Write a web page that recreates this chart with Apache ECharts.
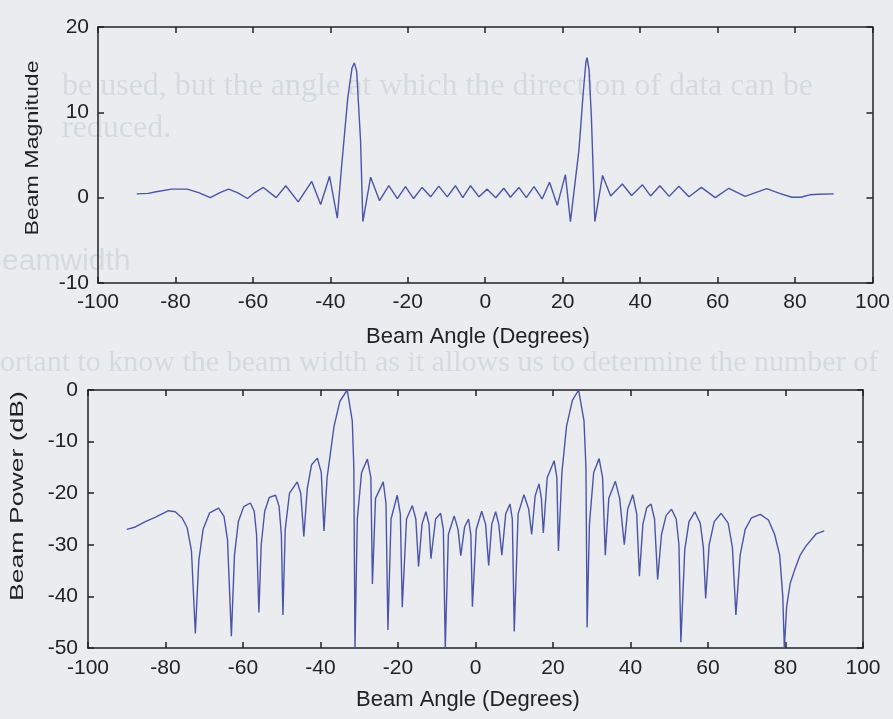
<!DOCTYPE html>
<html lang="en">
  <head>
    <meta charset="UTF-8" />
    <title>Beam pattern</title>
    <style>
      html, body { margin: 0; padding: 0; background: #eaecf0; }
      #main { width: 893px; height: 719px; }
    </style>
    <script src="https://cdn.jsdelivr.net/npm/echarts@6/dist/echarts.min.js"></script>
  </head>
  <body>
    <div id="main"></div>
    <script>
      // axis ticks
      const angleTicks = [-100, -80, -60, -40, -20, 0, 20, 40, 60, 80, 100]
      const magTicks = [-10, 0, 10, 20]
      const powTicks = [-50, -40, -30, -20, -10, 0]

      // beam magnitude (top plot)
      const magAngles = [
        -90, -87, -85, -81, -77, -74, -71, -68.5, -66.3, -64, -61.4, -59.5, -57.3, -54,
        -51.5, -48.3, -44.8, -42.5, -40.2, -38.2, -37.2, -35.5, -34.4, -33.8, -33.2, -32.2,
        -31.6, -29.6, -27.3, -24.9, -22.7, -20.6, -18.5, -16.3, -14.1, -12, -9.8, -7.7,
        -5.8, -3.8, -1.6, 0.5, 2.7, 4.8, 6.5, 8.7, 10.6, 12.6, 14.7, 16.6, 18.6, 20.7,
        22, 24.2, 25.3, 26, 26.3, 26.8, 27.4, 28.3, 30.3, 32.4, 35.4, 37.8, 40.6, 42.7,
        45.1, 47.5, 50, 52.6, 55.8, 59.4, 62.9, 67.1, 72.7, 76, 79.2, 81.5, 84, 86, 90
      ]
      const magValues = [
        0.45, 0.5, 0.7, 1.0, 1.0, 0.6, 0.0, 0.6, 1.0, 0.6, -0.1, 0.6, 1.2, 0.0,
        1.4, -0.5, 1.9, -0.8, 2.5, -2.4, 3.1, 11.7, 15.2, 15.8, 14.8, 6.7,
        -2.8, 2.4, -0.35, 1.4, -0.1, 1.3, -0.1, 1.2, 0.1, 1.35, 0.1, 1.4,
        0.0, 1.4, 0.1, 1.0, 0.0, 1.1, 0.05, 1.2, 0.0, 1.3, -0.15, 1.8, -0.9, 2.7,
        -2.8, 5.6, 12.3, 15.9, 16.4, 15.0, 9.6, -2.8, 2.6, 0.2, 1.6, 0.25, 1.5, 0.2,
        1.4, 0.15, 1.35, 0.1, 1.2, 0.0, 1.1, 0.15, 1.05, 0.5, 0.05, 0.05, 0.35, 0.4, 0.45
      ]

      // beam power in dB (bottom plot)
      const powAngles = [
        -90, -88, -85.2, -82.7, -79.2, -77.5, -75.7, -74.4,
        -73.3, -72.3, -71.4, -70.3, -68.6, -66.3, -64.9, -64,
        -63, -62.2, -61.2, -59.8, -58.1, -57.1, -56.5, -55.9,
        -55.3, -54.4, -53.2, -51.6, -50.7, -50.1, -49.7, -49.1,
        -48, -46, -45.1, -44.3, -43.4, -42.3, -40.8, -39.8,
        -39.1, -38.3, -36.5, -35, -33.1, -31.8, -31.4, -31.1,
        -30.5, -29.4, -27.9, -27, -26.6, -25.8, -23.8, -23.1,
        -22.6, -21.8, -20.2, -19.4, -18.9, -17.8, -16.3, -15.4,
        -14.7, -13.8, -12.8, -12, -11.5, -10.3, -9, -8.3,
        -7.8, -7, -5.5, -4.5, -3.8, -2.8, -1.8, -1.2,
        -0.8, 0.2, 1.6, 2.6, 3.4, 4.2, 5.2, 6,
        6.8, 7.8, 8.9, 9.5, 10, 11, 12.5, 13.7,
        14.5, 15.4, 16.4, 17, 17.5, 18.5, 20.3, 21,
        21.4, 22.3, 23.5, 25, 26.6, 28, 28.5, 28.8,
        29.4, 30.5, 31.9, 32.8, 33.5, 34.4, 36.1, 37.2,
        38.4, 39.3, 40.6, 41.6, 42.3, 43.2, 44.2, 45.3,
        46.2, 47, 48, 49.2, 50.6, 51.8, 52.5, 53,
        54, 55.1, 56.6, 58, 58.8, 59.4, 60.3, 61.6,
        63.4, 65.2, 66.3, 67.2, 68.3, 69.6, 71.2, 73.5,
        75.6, 77.2, 78.5, 79.3, 79.7, 80.3, 81.2, 82.3,
        83.8, 85.3, 87.9, 90
      ]
      const powValues = [
        -27, -26.6, -25.5, -24.7, -23.4, -23.6, -24.8, -26.7,
        -31.2, -47.2, -33, -27, -23.8, -22.9, -24.5, -29,
        -47.7, -32, -25.5, -22.6, -21.9, -23.5, -28, -43.1,
        -30, -23.5, -20.8, -20.4, -22.5, -28, -43.6, -27,
        -20, -17.8, -20, -28.4, -19, -14.5, -13.2, -16,
        -27.3, -17, -7, -2.2, 0, -6, -15, -50,
        -25, -16, -13.4, -17, -37.6, -21, -17.8, -22,
        -46.5, -25, -20.4, -24, -42.1, -25, -22.4, -25,
        -34.2, -26, -23.6, -26, -32.7, -25, -23.9, -27,
        -50, -28, -24.4, -27, -32.1, -26.5, -25, -28,
        -42, -27, -23.5, -26, -34, -26, -23.6, -26,
        -32, -24, -22.1, -25, -46.8, -24, -20.3, -23,
        -28, -20.5, -18.2, -21, -27.7, -17, -13.7, -17,
        -31.2, -16, -7, -2, 0, -6, -15, -46,
        -26, -16, -13.3, -17, -32, -21, -17.7, -21,
        -30, -23, -20.3, -24, -36.1, -26, -22.8, -22.1,
        -25, -36.7, -28, -24.3, -23.1, -25, -30, -48.9,
        -31, -25.5, -23.6, -25.8, -30.5, -40.4, -30, -25.5,
        -23.9, -25.8, -30.5, -43.6, -32, -27, -24.8, -24.1,
        -25.2, -28, -32, -40, -50, -42, -37.5, -35,
        -32, -30.2, -27.9, -27.3
      ]

      const lineColor = '#4a55a8'
      const inkColor = '#222222'
      const faint = '#d6d9de'
      const labelFont = { color: inkColor, fontSize: 21, fontFamily: 'Liberation Sans' }

      const zip = (xs, ys) => xs.map((x, i) => [x, ys[i]])

      function xAxisPair(grid, margin) {
        const base = {
          gridIndex: grid,
          type: 'value',
          min: angleTicks[0],
          max: angleTicks[angleTicks.length - 1],
          interval: angleTicks[1] - angleTicks[0],
          axisLine: { onZero: false, lineStyle: { color: inkColor, width: 1.5 } },
          axisTick: { inside: true, length: 6, lineStyle: { color: inkColor, width: 1.5 } },
          splitLine: { show: false }
        }
        return [
          Object.assign({}, base, { position: 'bottom', axisLabel: Object.assign({ margin: margin, showMinLabel: true, showMaxLabel: true }, labelFont) }),
          Object.assign({}, base, { position: 'top', axisLabel: { show: false } })
        ]
      }

      function yAxisPair(grid, ticks, margin) {
        const base = {
          gridIndex: grid,
          type: 'value',
          min: ticks[0],
          max: ticks[ticks.length - 1],
          interval: ticks[1] - ticks[0],
          axisLine: { onZero: false, lineStyle: { color: inkColor, width: 1.5 } },
          axisTick: { inside: true, length: 6, lineStyle: { color: inkColor, width: 1.5 } },
          splitLine: { show: false }
        }
        return [
          Object.assign({}, base, { position: 'left', axisLabel: Object.assign({ margin: margin }, labelFont) }),
          Object.assign({}, base, { position: 'right', axisLabel: { show: false } })
        ]
      }

      const chart = echarts.init(document.getElementById('main'))

      const option = {
        backgroundColor: '#eaecf0',
        animation: false,
        grid: [
          { left: 98, top: 27, width: 775, height: 256 },
          { left: 88, top: 390, width: 775, height: 258 }
        ],
        xAxis: [].concat(xAxisPair(0, 9), xAxisPair(1, 10)),
        yAxis: [].concat(yAxisPair(0, magTicks, 9), yAxisPair(1, powTicks, 10)),
        series: [
          {
            type: 'line',
            xAxisIndex: 0,
            yAxisIndex: 0,
            data: zip(magAngles, magValues),
            showSymbol: false,
            lineStyle: { color: lineColor, width: 1.4 }
          },
          {
            type: 'line',
            xAxisIndex: 2,
            yAxisIndex: 2,
            data: zip(powAngles, powValues),
            showSymbol: false,
            lineStyle: { color: lineColor, width: 1.4 }
          }
        ],
        graphic: [
          // faint page text showing through the scan
          { type: 'text', z: -1, left: 62, top: 71, style: { text: 'be used, but the angle at which the direction of data can be', fill: faint, font: '32px "Liberation Serif"' } },
          { type: 'text', z: -1, left: 62, top: 113, style: { text: 'reduced.', fill: faint, font: '32px "Liberation Serif"' } },
          { type: 'text', z: -1, left: -18, top: 247, style: { text: 'Beamwidth', fill: faint, font: '30px "Liberation Sans"' } },
          { type: 'text', z: -1, left: 0, top: 348, style: { text: 'ortant to know the beam width as it allows us to determine the number of', fill: faint, font: '30px "Liberation Serif"' } },
          // axis titles
          {
            type: 'text', x: 478, y: 337,
            style: { text: 'Beam Angle (Degrees)', fill: inkColor, font: '22px "Liberation Sans"', textAlign: 'center', textVerticalAlign: 'middle' }
          },
          {
            type: 'text', x: 468, y: 700,
            style: { text: 'Beam Angle (Degrees)', fill: inkColor, font: '22px "Liberation Sans"', textAlign: 'center', textVerticalAlign: 'middle' }
          },
          {
            type: 'text', x: 33, y: 148, rotation: Math.PI / 2, scaleX: 1.22,
            style: { text: 'Beam Magnitude', fill: inkColor, font: '19px "Liberation Sans"', textAlign: 'center', textVerticalAlign: 'middle' }
          },
          {
            type: 'text', x: 18, y: 496, rotation: Math.PI / 2, scaleX: 1.4,
            style: { text: 'Beam Power (dB)', fill: inkColor, font: '19px "Liberation Sans"', textAlign: 'center', textVerticalAlign: 'middle' }
          }
        ]
      }

      chart.setOption(option)
    </script>
  </body>
</html>
